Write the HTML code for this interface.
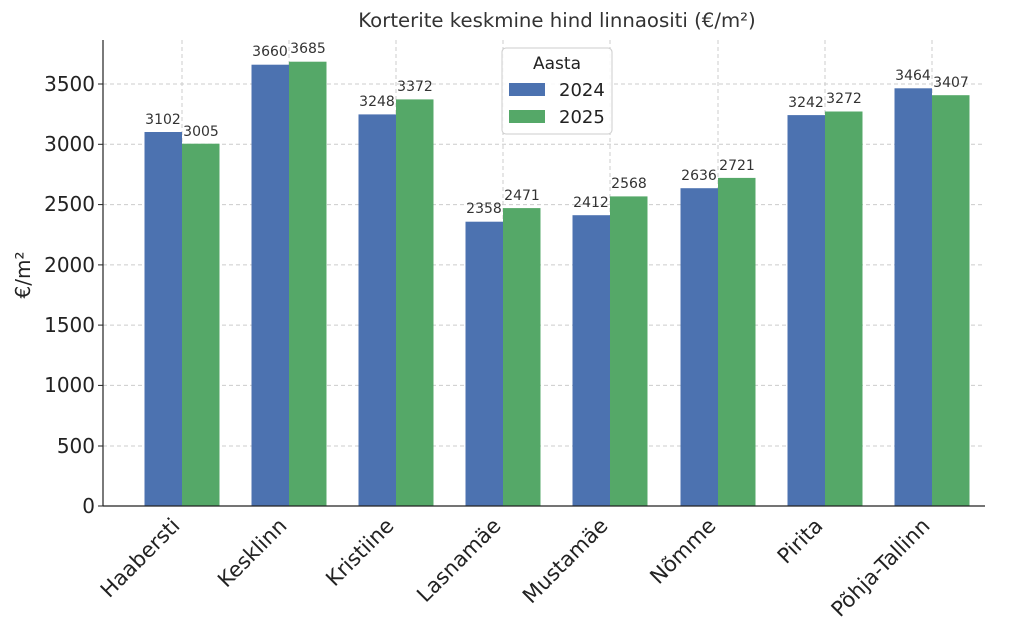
<!DOCTYPE html>
<html><head><meta charset="utf-8"><style>body{margin:0;background:#fff}svg{display:block;font-family:"DejaVu Sans","Liberation Sans",sans-serif}</style></head><body>
<svg width="1024" height="635" xmlns="http://www.w3.org/2000/svg">
<rect width="1024" height="635" fill="#fff"/>
<text x="557" y="27" font-size="19.7" text-anchor="middle" fill="#333">Korterite keskmine hind linnaositi (€/m²)</text>
<g stroke="#ccc" stroke-dasharray="4,3" stroke-width="1">
<line x1="103" x2="985" y1="446" y2="446"/><line x1="103" x2="985" y1="385.4" y2="385.4"/><line x1="103" x2="985" y1="325.1" y2="325.1"/><line x1="103" x2="985" y1="264.9" y2="264.9"/><line x1="103" x2="985" y1="204.6" y2="204.6"/><line x1="103" x2="985" y1="144.3" y2="144.3"/><line x1="103" x2="985" y1="84" y2="84"/>
<line x1="182" x2="182" y1="40" y2="506"/><line x1="289" x2="289" y1="40" y2="506"/><line x1="396" x2="396" y1="40" y2="506"/><line x1="503" x2="503" y1="40" y2="506"/><line x1="610" x2="610" y1="40" y2="506"/><line x1="718" x2="718" y1="40" y2="506"/><line x1="825" x2="825" y1="40" y2="506"/><line x1="932" x2="932" y1="40" y2="506"/>
</g>
<g fill="#4C72B0">
<rect x="144.5" y="132" width="37.5" height="374"/><rect x="251.5" y="64.7" width="37.5" height="441.3"/><rect x="358.5" y="114.4" width="37.5" height="391.6"/><rect x="465.5" y="221.7" width="37.5" height="284.3"/><rect x="572.5" y="215.2" width="37.5" height="290.8"/><rect x="680.5" y="188.2" width="37.5" height="317.8"/><rect x="787.5" y="115.1" width="37.5" height="390.9"/><rect x="894.5" y="88.3" width="37.5" height="417.7"/>
</g>
<g fill="#55A868">
<rect x="182" y="143.7" width="37.5" height="362.3"/><rect x="289" y="61.7" width="37.5" height="444.3"/><rect x="396" y="99.4" width="37.5" height="406.6"/><rect x="503" y="208.1" width="37.5" height="297.9"/><rect x="610" y="196.4" width="37.5" height="309.6"/><rect x="718" y="177.9" width="37.5" height="328.1"/><rect x="825" y="111.5" width="37.5" height="394.5"/><rect x="932" y="95.2" width="37.5" height="410.8"/>
</g>
<g font-size="14" fill="#333" text-anchor="middle">
<text x="163" y="124">3102</text><text x="201" y="136">3005</text>
<text x="270" y="56">3660</text><text x="308" y="53">3685</text>
<text x="377" y="106">3248</text><text x="415" y="91">3372</text>
<text x="484" y="213">2358</text><text x="522" y="200">2471</text>
<text x="591" y="207">2412</text><text x="629" y="188">2568</text>
<text x="699" y="180">2636</text><text x="737" y="170">2721</text>
<text x="806" y="107">3242</text><text x="844" y="103">3272</text>
<text x="913" y="80">3464</text><text x="951" y="87">3407</text>
</g>
<line x1="103" y1="40" x2="103" y2="506" stroke="#222" stroke-width="1.2"/>
<line x1="103" y1="506" x2="985" y2="506" stroke="#222" stroke-width="1.2"/>
<g font-size="20" fill="#222" text-anchor="end">
<text x="95" y="513">0</text><text x="95" y="453">500</text><text x="95" y="392">1000</text><text x="95" y="332">1500</text><text x="95" y="272">2000</text><text x="95" y="211">2500</text><text x="95" y="151">3000</text><text x="95" y="91">3500</text>
</g>
<g stroke="#222"><line x1="98" x2="103" y1="506" y2="506"/><line x1="98" x2="103" y1="446" y2="446"/><line x1="98" x2="103" y1="385.4" y2="385.4"/><line x1="98" x2="103" y1="325.1" y2="325.1"/><line x1="98" x2="103" y1="264.9" y2="264.9"/><line x1="98" x2="103" y1="204.6" y2="204.6"/><line x1="98" x2="103" y1="144.3" y2="144.3"/><line x1="98" x2="103" y1="84" y2="84"/></g>
<text transform="translate(30,275) rotate(-90)" font-size="20" text-anchor="middle" fill="#222">€/m²</text>
<g font-size="21" fill="#222" text-anchor="end">
<text transform="translate(181,527) rotate(-45)">Haabersti</text>
<text transform="translate(288,527) rotate(-45)">Kesklinn</text>
<text transform="translate(395,527) rotate(-45)">Kristiine</text>
<text transform="translate(502,527) rotate(-45)">Lasnamäe</text>
<text transform="translate(609,527) rotate(-45)">Mustamäe</text>
<text transform="translate(717,527) rotate(-45)">Nõmme</text>
<text transform="translate(824,527) rotate(-45)">Pirita</text>
<text transform="translate(931,527) rotate(-45)">Põhja-Tallinn</text>
</g>
<rect x="502" y="48" width="110" height="86" rx="4" fill="#fff" fill-opacity="0.85" stroke="#ccc"/>
<text x="557" y="69" font-size="17" text-anchor="middle" fill="#222">Aasta</text>
<rect x="509" y="83" width="36" height="13" fill="#4C72B0"/>
<text x="559" y="96" font-size="18" fill="#222">2024</text>
<rect x="509" y="110" width="36" height="13" fill="#55A868"/>
<text x="559" y="123" font-size="18" fill="#222">2025</text>
</svg>
</body></html>
